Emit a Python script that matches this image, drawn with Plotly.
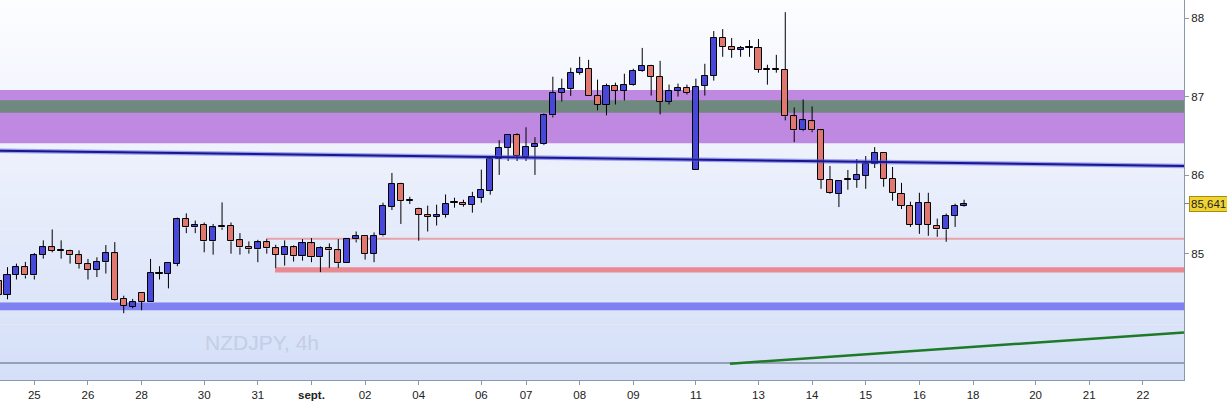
import plotly.graph_objects as go

# NZDJPY 4h candles (oldest first)
opens = [84.658, 84.477, 84.737, 84.831, 84.725, 84.990, 85.083, 85.043, 85.033, 84.982,
         84.869, 84.801, 84.894, 85.008, 84.427, 84.330, 84.498, 84.389, 84.750, 84.750,
         84.876, 85.441, 85.336, 85.374, 85.159, 85.336, 85.361, 85.172, 85.087, 85.058,
         85.146, 85.071, 84.982, 85.083, 84.970, 85.134, 84.957, 85.071, 85.045, 84.881,
         85.184, 85.222, 85.003, 85.235, 85.601, 85.891, 85.677, 85.571, 85.500, 85.475,
         85.500, 85.651, 85.651, 85.626, 85.715, 85.803, 86.207, 86.346, 86.510, 86.232,
         86.359, 86.396, 86.763, 87.053, 87.103, 87.306, 87.356, 87.010, 86.901, 87.141,
         87.078, 87.154, 87.331, 87.394, 87.255, 86.939, 87.078, 87.116, 86.068, 87.141,
         87.268, 87.747, 87.634, 87.596, 87.621, 87.621, 87.343, 87.343, 87.343, 86.750,
         86.573, 86.687, 86.573, 85.942, 85.765, 85.942, 85.942, 85.992, 86.144, 86.283,
         85.955, 85.765, 85.614, 85.369, 85.651, 85.361, 85.311, 85.487, 85.614]
highs = [84.683, 84.831, 84.876, 84.898, 85.011, 85.172, 85.311, 85.172, 85.053, 85.045,
         84.936, 84.957, 85.112, 85.150, 84.468, 84.427, 84.498, 84.936, 84.843, 84.885,
         85.462, 85.516, 85.424, 85.399, 85.381, 85.655, 85.399, 85.264, 85.159, 85.179,
         85.188, 85.116, 85.172, 85.108, 85.188, 85.201, 85.096, 85.134, 85.188, 85.188,
         85.285, 85.222, 85.273, 85.651, 86.030, 85.904, 85.727, 85.588, 85.614, 85.626,
         85.756, 85.715, 85.689, 85.790, 86.072, 86.245, 86.447, 86.510, 86.535, 86.611,
         86.485, 86.788, 87.255, 87.230, 87.369, 87.508, 87.470, 87.217, 87.167, 87.179,
         87.293, 87.356, 87.621, 87.407, 87.457, 87.154, 87.167, 87.154, 87.230, 87.419,
         87.836, 87.861, 87.747, 87.646, 87.722, 87.735, 87.407, 87.533, 88.076, 86.864,
         86.965, 86.876, 86.586, 86.119, 85.929, 86.068, 86.207, 86.245, 86.359, 86.283,
         86.106, 85.904, 85.664, 85.778, 85.778, 85.449, 85.513, 85.639, 85.689]
lows = [84.443, 84.422, 84.674, 84.687, 84.674, 84.939, 85.020, 84.939, 84.876, 84.813,
        84.674, 84.705, 84.750, 84.402, 84.245, 84.308, 84.283, 84.389, 84.674, 84.561,
        84.843, 85.264, 85.264, 85.020, 84.990, 85.306, 85.003, 84.990, 85.003, 84.894,
        85.003, 84.822, 84.851, 84.902, 84.914, 84.894, 84.768, 84.822, 84.822, 84.881,
        85.146, 84.927, 84.894, 85.222, 85.558, 85.381, 85.634, 85.167, 85.285, 85.361,
        85.462, 85.588, 85.601, 85.525, 85.651, 85.753, 86.005, 86.182, 86.182, 86.182,
        86.005, 86.384, 86.737, 86.939, 87.010, 87.280, 87.010, 86.826, 86.763, 86.901,
        86.952, 87.141, 87.318, 87.015, 86.775, 86.901, 87.002, 87.028, 86.068, 87.015,
        87.205, 87.508, 87.495, 87.508, 87.508, 87.306, 87.154, 87.306, 86.699, 86.422,
        86.561, 86.548, 85.828, 85.765, 85.596, 85.816, 85.841, 85.828, 86.093, 85.854,
        85.677, 85.571, 85.343, 85.255, 85.230, 85.217, 85.154, 85.343, 85.601]
closes = [84.481, 84.737, 84.831, 84.725, 84.982, 85.083, 85.040, 85.043, 84.982, 84.876,
          84.801, 84.894, 85.008, 84.409, 84.338, 84.384, 84.389, 84.755, 84.750, 84.885,
          85.441, 85.336, 85.374, 85.159, 85.336, 85.361, 85.159, 85.083, 85.058, 85.146,
          85.071, 84.990, 85.083, 84.970, 85.134, 84.957, 85.071, 85.045, 84.881, 85.188,
          85.222, 85.003, 85.222, 85.614, 85.891, 85.677, 85.677, 85.495, 85.475, 85.500,
          85.639, 85.651, 85.626, 85.727, 85.816, 86.207, 86.346, 86.510, 86.245, 86.359,
          86.396, 86.763, 87.053, 87.103, 87.306, 87.356, 87.010, 86.901, 87.141, 87.078,
          87.154, 87.331, 87.394, 87.255, 86.939, 87.078, 87.116, 87.053, 87.129, 87.268,
          87.747, 87.634, 87.596, 87.621, 87.621, 87.343, 87.343, 87.343, 86.750, 86.573,
          86.699, 86.573, 85.942, 85.778, 85.929, 85.942, 86.005, 86.144, 86.283, 85.955,
          85.778, 85.614, 85.369, 85.651, 85.369, 85.311, 85.487, 85.614, 85.641]

# date labels sit on the candle that opens each day
tick_pos = [4, 10, 16, 23, 29, 35, 41, 47, 54, 59, 65, 71, 78, 85, 91, 97, 103, 109, 116, 122, 128]
tick_text = ["25", "26", "28", "30", "31", "<b>sept.</b>", "02", "04", "06", "07", "08",
             "09", "11", "13", "14", "15", "16", "18", "20", "21", "22"]

price_ticks = [85, 86, 87, 88]
last_price = 85.641

# drawn zones and lines (price levels)
purple_zone = [86.409, 87.086]
grey_zone = [86.795, 86.956]
blue_zone = [84.283, 84.380]
pink_zone = [84.763, 84.831]
pink_level = 85.192
trend_blue = [86.312, 86.119]    # left edge -> right edge
trend_green = [83.603, 84.001]   # start -> right edge
floor_line = 83.610

BLUE = "#4747d9"
RED = "#e0786f"

n = len(opens)
xs = list(range(n))
bases, heights, colors = [], [], []
wx, wy = [], []
for i in xs:
    o, c = opens[i], closes[i]
    lo, hi = min(o, c), max(o, c)
    bases.append(lo)
    heights.append(max(hi - lo, 0.012))
    colors.append(BLUE if c >= o else RED)
    # split wick so it doesn't cross the body
    wx += [i, i, None, i, i, None]
    wy += [highs[i], hi, None, lo, lows[i], None]

fig = go.Figure()
fig.add_trace(go.Scatter(x=wx, y=wy, mode="lines", line=dict(color="black", width=1),
                         hoverinfo="skip", showlegend=False))
fig.add_trace(go.Bar(x=xs, y=heights, base=bases, width=0.68,
                     marker=dict(color=colors, line=dict(color="black", width=1)),
                     hoverinfo="skip", showlegend=False))

shapes = []
# vertical background gradient
steps = 48
top, bot = (252, 253, 255), (213, 223, 247)
for k in range(steps):
    t = k / (steps - 1)
    col = tuple(round(top[j] + (bot[j] - top[j]) * t) for j in range(3))
    shapes.append(dict(type="rect", xref="paper", yref="paper", x0=0, x1=1,
                       y0=1 - (k + 1) / steps, y1=1 - k / steps + 0.001,
                       fillcolor="rgb(%d,%d,%d)" % col, line_width=0, layer="below"))

def band(y0, y1, color, x0=0):
    return dict(type="rect", xref="paper", yref="y", x0=x0, x1=1, y0=y0, y1=y1,
                fillcolor=color, line_width=0, layer="below")

shapes += [
    band(purple_zone[0], purple_zone[1], "#bf89e1"),
    band(grey_zone[0], grey_zone[1], "#6f897f"),
    band(blue_zone[0], blue_zone[1], "#7f80f2"),
    band(pink_zone[0], pink_zone[1], "#e98991", x0=275 / 1184),
    dict(type="line", xref="paper", yref="y", x0=266 / 1184, x1=1, y0=pink_level, y1=pink_level,
         line=dict(color="#e7a2aa", width=2), layer="below"),
    dict(type="line", xref="paper", yref="y", x0=0, x1=1, y0=floor_line, y1=floor_line,
         line=dict(color="#7d8ca3", width=1.5), layer="below"),
    dict(type="line", xref="paper", yref="y", x0=0, x1=1, y0=trend_blue[0], y1=trend_blue[1],
         line=dict(color="rgba(90,90,225,0.55)", width=4.5)),
    dict(type="line", xref="paper", yref="y", x0=0, x1=1, y0=trend_blue[0], y1=trend_blue[1],
         line=dict(color="#17178f", width=2)),
    dict(type="line", xref="paper", yref="y", x0=730 / 1184, x1=1,
         y0=trend_green[0], y1=trend_green[1], line=dict(color="#1d7a26", width=2.5)),
    dict(type="line", xref="paper", yref="y", x0=1, x1=1.0045, y0=last_price, y1=last_price,
         line=dict(color="#7d8696", width=1)),
]

fig.update_layout(
    width=1227, height=401,
    margin=dict(l=0, r=43, t=0, b=18, pad=0),
    paper_bgcolor="white", plot_bgcolor="white",
    barmode="overlay", bargap=0, showlegend=False,
    font=dict(family="Arial, Liberation Sans, sans-serif", size=11, color="#222"),
    shapes=shapes,
    xaxis=dict(range=[0.16, 132.6], tickvals=tick_pos, ticktext=tick_text,
               showgrid=False, zeroline=False, showline=True, linecolor="#8c97a8", linewidth=1,
               ticks="outside", ticklen=4, tickcolor="#8c97a8", tickfont=dict(size=11.5)),
    yaxis=dict(range=[83.395, 88.231], side="right", tickvals=price_ticks,
               showgrid=False, zeroline=False, showline=True, linecolor="#8c97a8", linewidth=1,
               ticks="outside", ticklen=4, tickcolor="#8c97a8", tickfont=dict(size=11.5)),
    annotations=[
        dict(text="NZDJPY, 4h", xref="paper", yref="paper", x=203 / 1184, y=38 / 383,
             xanchor="left", yanchor="middle", showarrow=False,
             font=dict(size=21, color="#c5cde4")),
        dict(text="85,641", xref="paper", yref="y", x=1, y=last_price, xanchor="left",
             xshift=5, showarrow=False, bgcolor="#f1d431", bordercolor="#a48d16",
             borderwidth=1, borderpad=1, font=dict(size=11.5, color="#222")),
    ],
)

# page body has a default 8px margin; drop it so the figure sits at the corner
fig.write_html("out.html", config={"displayModeBar": False},
               post_script="document.body.style.margin = '0';")
